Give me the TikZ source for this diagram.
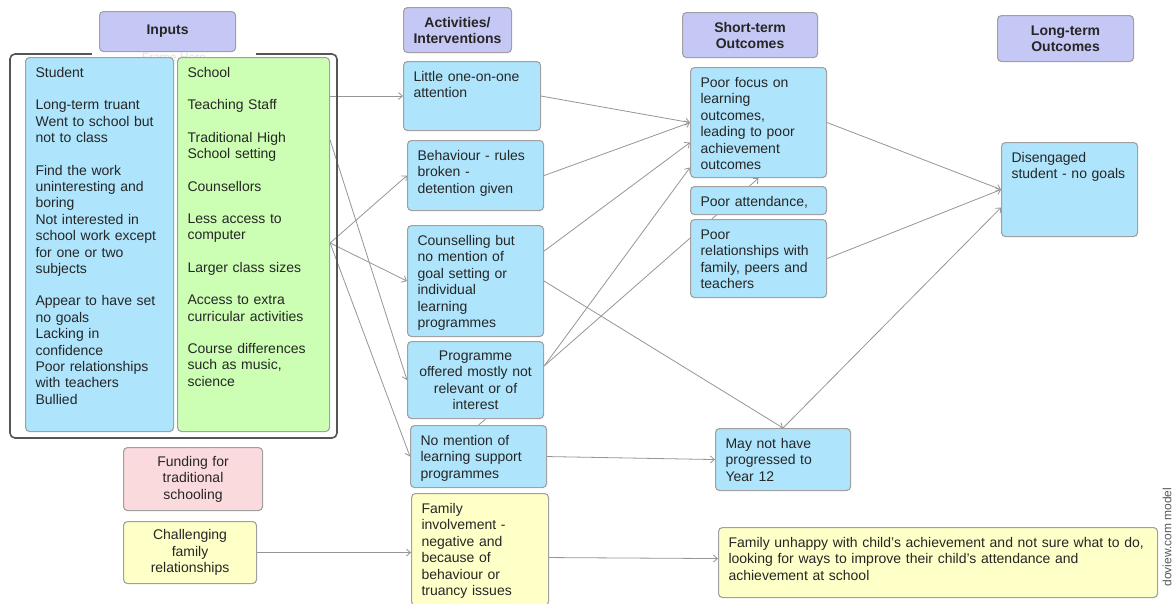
\documentclass[tikz,border=0pt]{standalone}
\usepackage{fontspec}
\setmainfont{Liberation Sans}
\usetikzlibrary{arrows.meta,backgrounds}
\definecolor{hdrfill}{RGB}{197,200,245}
\definecolor{bluefill}{RGB}{174,229,252}
\definecolor{greenfill}{RGB}{204,255,180}
\definecolor{pinkfill}{RGB}{250,218,221}
\definecolor{yelfill}{RGB}{255,255,200}
\definecolor{edge}{RGB}{160,160,160}
\definecolor{wire}{RGB}{150,150,150}
\definecolor{framec}{RGB}{85,85,85}
\begin{document}
\begin{tikzpicture}[x=1pt,y=-1pt,
	every node/.style={font=\fontsize{14}{16.4}\selectfont,text=black!85},
	box/.style={draw=edge,line width=1.1pt,rounded corners=4pt,inner xsep=10pt,inner ysep=6pt,anchor=north west,align=left},
	wh/.code 2 args={\pgfmathsetmacro\bw{#1-20}\pgfmathsetmacro\bd{#2-26}\edef\boxset{\noexpand\tikzset{minimum width=#1pt,text width=\bw pt,text height=14pt,text depth=\bd pt}}\boxset},
	cwh/.code 2 args={\pgfmathsetmacro\bw{#1-20}\edef\boxset{\noexpand\tikzset{minimum width=#1pt,minimum height=#2pt,text width=\bw pt,align=center}}\boxset},
	hdr/.style={box,fill=hdrfill,font=\bfseries\fontsize{14}{16}\selectfont},
	link/.style={draw=wire,line width=.8pt},
	arr/.style={link,-{Straight Barb[length=4pt,width=7pt]}}]
	\useasboundingbox(0,0)rectangle(1173,603);
	% frame round the inputs
	\draw[framec,line width=1.6pt,rounded corners=5pt](10,54)rectangle(337,438);
	\node[fill=white,minimum width=164pt,inner sep=1pt,text=gray!25,font=\fontsize{12}{12}\selectfont](frmlbl)at(174,57){Frame Here};
	% column headers
	\node[hdr,cwh={136}{40}](inhdr)at(99,11){Inputs};
	\node[hdr,cwh={108}{45}](acthdr)at(403,7){Activities/\\Interventions};
	\node[hdr,cwh={135}{45}](sthdr)at(682,12){Short-term\\Outcomes};
	\node[hdr,cwh={136}{46}](lthdr)at(997,15){Long-term\\Outcomes};
	% inputs
	\node[box,fill=bluefill,wh={148}{374}](student)at(25,57){Student\\[16pt]Long-term truant\\Went to school but\\not to class\\[16pt]Find the work\\uninteresting and\\boring\\Not interested in\\school work except\\for one or two\\subjects\\[16pt]Appear to have set\\no goals\\Lacking in\\confidence\\Poor relationships\\with teachers\\Bullied};
	\node[box,fill=greenfill,wh={152}{374}](school)at(177,57){School\\[16pt]Teaching Staff\\[16pt]Traditional High\\School setting\\[16pt]Counsellors\\[16pt]Less access to\\computer\\[16pt]Larger class sizes\\[16pt]Access to extra\\curricular activities\\[16pt]Course differences\\such as music,\\science};
	\node[box,fill=pinkfill,cwh={139}{63}](fund)at(123,447){Funding for\\traditional\\schooling};
	\node[box,fill=yelfill,cwh={133}{62}](chall)at(123,521){Challenging\\family\\relationships};
	% activities
	\node[box,fill=bluefill,wh={137}{69}](little)at(403,61){Little one-on-one\\attention};
	\node[box,fill=bluefill,wh={136}{70}](behav)at(407,140){Behaviour - rules\\broken -\\detention given};
	\node[box,fill=bluefill,wh={136}{111}](couns)at(407,225){Counselling but\\no mention of\\goal setting or\\individual\\learning\\programmes};
	\node[box,fill=bluefill,cwh={136}{77}](prog)at(407,341){Programme\\offered mostly not\\relevant or of\\interest};
	\node[box,fill=bluefill,wh={136}{62}](nomen)at(410,425){No mention of\\learning support\\programmes};
	\node[box,fill=yelfill,wh={137}{112}](faminv)at(411,493){Family\\involvement -\\negative and\\because of\\behaviour or\\truancy issues};
	% short-term outcomes
	\node[box,fill=bluefill,wh={136}{110}](focus)at(690,67){Poor focus on\\learning\\outcomes,\\leading to poor\\achievement\\outcomes};
	\node[box,fill=bluefill,wh={136}{28}](attend)at(690,186){Poor attendance,};
	\node[box,fill=bluefill,wh={136}{78}](relat)at(690,219){Poor\\relationships with\\family, peers and\\teachers};
	\node[box,fill=bluefill,wh={135}{62}](mayprog)at(715,428){May not have\\progressed to\\Year 12};
	\node[box,fill=yelfill,wh={439}{70}](unhappy)at(718,527){Family unhappy with child's achievement and not sure what to do,\\looking for ways to improve their child's attendance and\\achievement at school};
	% long-term outcomes
	\node[box,fill=bluefill,wh={136}{94}](diseng)at(1001,142){Disengaged\\student - no goals};
	\node[rotate=90,text=gray!70!black,font=\fontsize{12}{12}\selectfont](credit)at(1167,537){doview.com model};
	% links
	\begin{scope}[on background layer]
		\fill[white](0,0)rectangle(1173,603);
		\draw[arr](school.east|-little.west)--(little.west);
		\draw[arr]([yshift=-83pt]school.north east)--(prog.west);
		\foreach\t in{behav,couns,nomen}{\draw[arr]([yshift=-186pt]school.north east)--(\t.west);}
		\foreach\s in{little,behav}{\draw[arr](\s.east)--(focus.west);}
		\draw[arr]([yshift=30pt]couns.east)--([yshift=-20pt]focus.west);
		\draw[arr]([yshift=14pt]prog.east)--([yshift=-45pt]focus.west);
		\draw[arr]([yshift=14pt]prog.east)--(focus.south);
		\draw[arr](couns.east)--(mayprog.north);
		\draw[arr](mayprog.north)--([yshift=-18pt]diseng.west);
		\foreach\s in{focus,relat}{\draw[arr](\s.east)--(diseng.west);}
		\draw[arr](nomen.east)--(mayprog.west);
		\draw[arr](chall.east)--(chall.east-|faminv.west);
		\draw[arr]([yshift=-8pt]faminv.east)--([yshift=4pt]unhappy.west);
		\draw[link](nomen.north)--([xshift=10pt]prog.south);
	\end{scope}
\end{tikzpicture}
\end{document}
